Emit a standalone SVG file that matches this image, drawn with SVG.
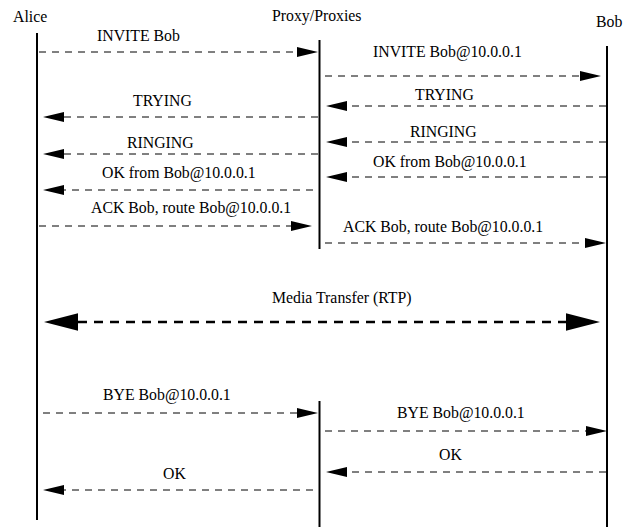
<svg xmlns="http://www.w3.org/2000/svg" width="631" height="527" viewBox="0 0 631 527">
<style>
text{font-family:"Liberation Serif","Times New Roman",serif;font-size:15.8px;fill:#000}
.life{stroke:#000;stroke-width:2;fill:none}
.msg{stroke:#000;stroke-width:1;stroke-dasharray:7,6;fill:none;marker-end:url(#ah)}
.media{stroke:#000;stroke-width:2.6;stroke-dasharray:9,7;fill:none;marker-start:url(#bhs);marker-end:url(#bh)}
</style>
<defs>
<marker id="ah" markerUnits="userSpaceOnUse" markerWidth="22" markerHeight="12" refX="0" refY="5" orient="auto" overflow="visible"><path d="M0,0 L21,5 L0,10 Z" fill="#000"/></marker>
<marker id="bh" markerUnits="userSpaceOnUse" markerWidth="36" markerHeight="18" refX="0" refY="8.7" orient="auto" overflow="visible"><path d="M0,0 L34,8.7 L0,17.4 Z" fill="#000"/></marker>
<marker id="bhs" markerUnits="userSpaceOnUse" markerWidth="36" markerHeight="18" refX="0" refY="8.7" orient="auto-start-reverse" overflow="visible"><path d="M0,0 L34,8.7 L0,17.4 Z" fill="#000"/></marker>
</defs>
<g id="alice"><text x="13" y="22">Alice</text><line class="life" x1="37" y1="33" x2="37" y2="520"/></g>
<g id="proxy"><text x="272" y="21">Proxy/Proxies</text><line class="life" x1="319.5" y1="40" x2="319.5" y2="249"/><line class="life" x1="319.5" y1="401" x2="319.5" y2="527"/></g>
<g id="bob"><text x="596" y="27">Bob</text><line class="life" x1="607" y1="46" x2="607" y2="527"/></g>
<g id="connectors">
<line class="msg" x1="39" y1="52" x2="297" y2="52"/>
<line class="msg" x1="325" y1="76" x2="580" y2="76"/>
<line class="msg" x1="606" y1="106" x2="347" y2="106"/>
<line class="msg" x1="318" y1="117" x2="64" y2="117"/>
<line class="msg" x1="606" y1="142" x2="347" y2="142"/>
<line class="msg" x1="318" y1="154" x2="64" y2="154"/>
<line class="msg" x1="606" y1="177" x2="347" y2="177"/>
<line class="msg" x1="313" y1="190" x2="64" y2="190"/>
<line class="msg" x1="39" y1="226" x2="291" y2="226"/>
<line class="msg" x1="325" y1="243" x2="585" y2="243"/>
<line class="media" x1="78" y1="322" x2="566" y2="322"/>
<line class="msg" x1="43" y1="413" x2="297" y2="413"/>
<line class="msg" x1="325" y1="431" x2="586" y2="431"/>
<line class="msg" x1="606" y1="472" x2="347" y2="472"/>
<line class="msg" x1="313" y1="490" x2="64" y2="490"/>
</g>
<g id="labels">
<text x="97" y="41">INVITE Bob</text>
<text x="373" y="57">INVITE Bob@10.0.0.1</text>
<text x="415" y="100">TRYING</text>
<text x="133" y="106">TRYING</text>
<text x="410" y="137">RINGING</text>
<text x="127" y="148">RINGING</text>
<text x="373" y="167">OK from Bob@10.0.0.1</text>
<text x="102" y="178">OK from Bob@10.0.0.1</text>
<text x="91" y="213">ACK Bob, route Bob@10.0.0.1</text>
<text x="343" y="232">ACK Bob, route Bob@10.0.0.1</text>
<text x="272" y="303">Media Transfer (RTP)</text>
<text x="103" y="400">BYE Bob@10.0.0.1</text>
<text x="397" y="418">BYE Bob@10.0.0.1</text>
<text x="439" y="460">OK</text>
<text x="163" y="479">OK</text>
</g>
</svg>
